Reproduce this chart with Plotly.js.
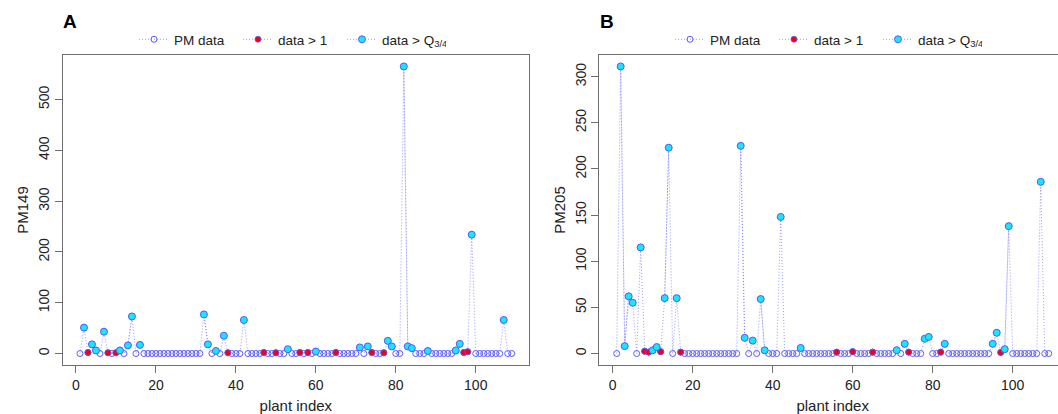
<!DOCTYPE html>
<html><head><meta charset="utf-8">
<script src="https://cdn.plot.ly/plotly-3.0.1.min.js"></script>
<style>html,body{margin:0;padding:0;overflow:hidden;background:#fff}</style>
</head><body><div id="chart"></div>
<script>
// plant index 1..109
const plantIndex = Array.from({length: 109}, (_, k) => k + 1);
const xTicks = [0, 20, 40, 60, 80, 100];

// PM149 values (panel A)
const pm149 = [
  0, 51, 2, 18, 6, 0, 43, 1.5, 0, 1.5,
  6, 0, 16, 73, 0, 17, 0, 0, 0, 0,
  0, 0, 0, 0, 0, 0, 0, 0, 0, 0,
  0, 77, 18, 0, 5, 0, 35, 1.5, 0, 0,
  0, 66, 0, 0, 0, 0, 2, 0, 0, 1.5,
  0, 0, 8.5, 0, 0, 2, 0, 2, 0, 4,
  0, 0, 0, 0, 2, 0, 0, 0, 0, 0,
  12, 0, 14, 2, 0, 0, 1.5, 25, 14, 0,
  0, 565, 14, 10.5, 0, 0, 0, 5, 0, 0,
  0, 0, 0, 0, 6, 19, 2, 3.5, 234, 0,
  0, 0, 0, 0, 0, 0, 66, 0, 0
];
const pm149Above1 = [3, 8, 10, 38, 47, 50, 56, 58, 65, 74, 77, 97, 98];
const pm149AboveQ = [2, 4, 5, 7, 11, 13, 14, 16, 32, 33, 35, 37, 42, 53, 60, 71, 73, 78, 79, 82, 83, 84, 88, 95, 96, 99, 107];
const pm149Ticks = [0, 100, 200, 300, 400, 500];

// PM205 values (panel B)
const pm205 = [
  0, 311, 8, 62, 55, 0, 115, 2.5, 1.5, 3.5,
  7, 2, 60, 223, 0, 60, 1.5, 0, 0, 0,
  0, 0, 0, 0, 0, 0, 0, 0, 0, 0,
  0, 225, 17, 0, 14, 0, 59, 3.5, 0, 0,
  0, 148, 0, 0, 0, 0, 6, 0, 0, 0,
  0, 0, 0, 0, 0, 1.5, 0, 0, 0, 2,
  0, 0, 0, 0, 1.5, 0, 0, 0, 0, 0,
  3.6, 0, 10.5, 1.5, 0, 0, 0, 16, 18, 0,
  0, 1.5, 10.5, 0, 0, 0, 0, 0, 0, 0,
  0, 0, 0, 0, 10.5, 22.5, 1.2, 4.7, 138, 0,
  0, 0, 0, 0, 0, 0, 186, 0, 0
];
const pm205Above1 = [8, 9, 12, 17, 56, 60, 65, 74, 82, 97];
const pm205AboveQ = [2, 3, 4, 5, 7, 10, 11, 13, 14, 16, 32, 33, 35, 37, 38, 42, 47, 71, 73, 78, 79, 83, 95, 96, 98, 99, 107];
const pm205Ticks = [0, 50, 100, 150, 200, 250, 300];

const seriesNames = ['PM data', 'data > 1', 'data > Q<sub>3/4</sub>'];

// styling
const W = 1070, H = 414;
const BLUE = 'rgb(90,90,245)';
const LINE = 'rgba(110,110,245,0.7)';
const RED = 'rgb(240,0,25)';
const CYAN = 'rgb(25,230,250)';
const FONT = 'Liberation Sans, Arial, Helvetica, sans-serif';

function subset(values, idx) {
  return values.map((v, k) => idx.includes(plantIndex[k]) ? v : null);
}

function panelTraces(values, above1, aboveQ, xa, ya, leg) {
  const line = {dash: '1px,2px', width: 1, color: LINE};
  return [
    {x: plantIndex, y: values, name: seriesNames[0], xaxis: xa, yaxis: ya, legend: leg,
     type: 'scatter', mode: 'lines+markers', line: line,
     marker: {symbol: 'circle-open', size: 6, color: BLUE, line: {width: 1, color: BLUE}}},
    {x: plantIndex, y: subset(values, above1), name: seriesNames[1], xaxis: xa, yaxis: ya, legend: leg,
     type: 'scatter', mode: 'lines+markers', connectgaps: false, line: line,
     marker: {symbol: 'circle', size: 6, color: RED, line: {width: 0.8, color: BLUE}}},
    {x: plantIndex, y: subset(values, aboveQ), name: seriesNames[2], xaxis: xa, yaxis: ya, legend: leg,
     type: 'scatter', mode: 'lines+markers', connectgaps: false, line: line,
     marker: {symbol: 'circle', size: 7, color: CYAN, line: {width: 1, color: BLUE}}}
  ];
}

const data = [
  ...panelTraces(pm149, pm149Above1, pm149AboveQ, 'x', 'y', 'legend'),
  ...panelTraces(pm205, pm205Above1, pm205AboveQ, 'x2', 'y2', 'legend2')
];

function extRange(vals) {
  const lo = Math.min(...vals), hi = Math.max(...vals);
  const d = (hi - lo) * 0.04;
  return [lo - d, hi + d];
}

const axBase = {
  showline: true, mirror: true, linecolor: '#6f6f6f', linewidth: 1,
  ticks: 'outside', ticklen: 7, tickcolor: '#6f6f6f', tickwidth: 1,
  showgrid: false, zeroline: false,
  tickfont: {family: FONT, size: 14, color: '#222'}
};
const xTitle = {text: 'plant index', font: {family: FONT, size: 15, color: '#222'}, standoff: 8};

const px = v => v / W;
const pyPaper = v => (H - 49 - v) / (H - 55 - 49);

const legendBase = {orientation: 'h', xanchor: 'left', y: pyPaper(39.5), yanchor: 'middle',
  entrywidth: 59, font: {family: FONT, size: 13.5, color: '#222'}, bgcolor: 'rgba(0,0,0,0)'};

const layout = {
  width: W, height: H,
  margin: {l: 0, r: 0, t: 55, b: 49},
  paper_bgcolor: '#fff', plot_bgcolor: '#fff',
  font: {family: FONT, color: '#222'},
  showlegend: true,
  xaxis: Object.assign({}, axBase, {domain: [px(62.7), px(529)], anchor: 'y',
    range: extRange(plantIndex), tickvals: xTicks, title: xTitle}),
  yaxis: Object.assign({}, axBase, {domain: [0, 1], anchor: 'x',
    range: extRange(pm149), tickvals: pm149Ticks, tickangle: -90,
    title: {text: 'PM149', font: {family: FONT, size: 15, color: '#222'}, standoff: 3}}),
  xaxis2: Object.assign({}, axBase, {domain: [px(599.4), px(1066)], anchor: 'y2',
    range: extRange(plantIndex), tickvals: xTicks, title: xTitle}),
  yaxis2: Object.assign({}, axBase, {domain: [0, 1], anchor: 'x2',
    range: extRange(pm205), tickvals: pm205Ticks, tickangle: -90,
    title: {text: 'PM205', font: {family: FONT, size: 15, color: '#222'}, standoff: 3}}),
  legend: Object.assign({}, legendBase, {x: px(134)}),
  legend2: Object.assign({}, legendBase, {x: px(670)}),
  annotations: [
    {text: '<b>A</b>', xref: 'paper', yref: 'paper', x: px(61), y: pyPaper(21.5), xanchor: 'left', yanchor: 'middle',
     showarrow: false, font: {family: FONT, size: 19, color: '#000'}},
    {text: '<b>B</b>', xref: 'paper', yref: 'paper', x: px(597.5), y: pyPaper(21.5), xanchor: 'left', yanchor: 'middle',
     showarrow: false, font: {family: FONT, size: 19, color: '#000'}}
  ]
};

Plotly.newPlot('chart', data, layout, {displayModeBar: false, staticPlot: true});
</script>
</body></html>
